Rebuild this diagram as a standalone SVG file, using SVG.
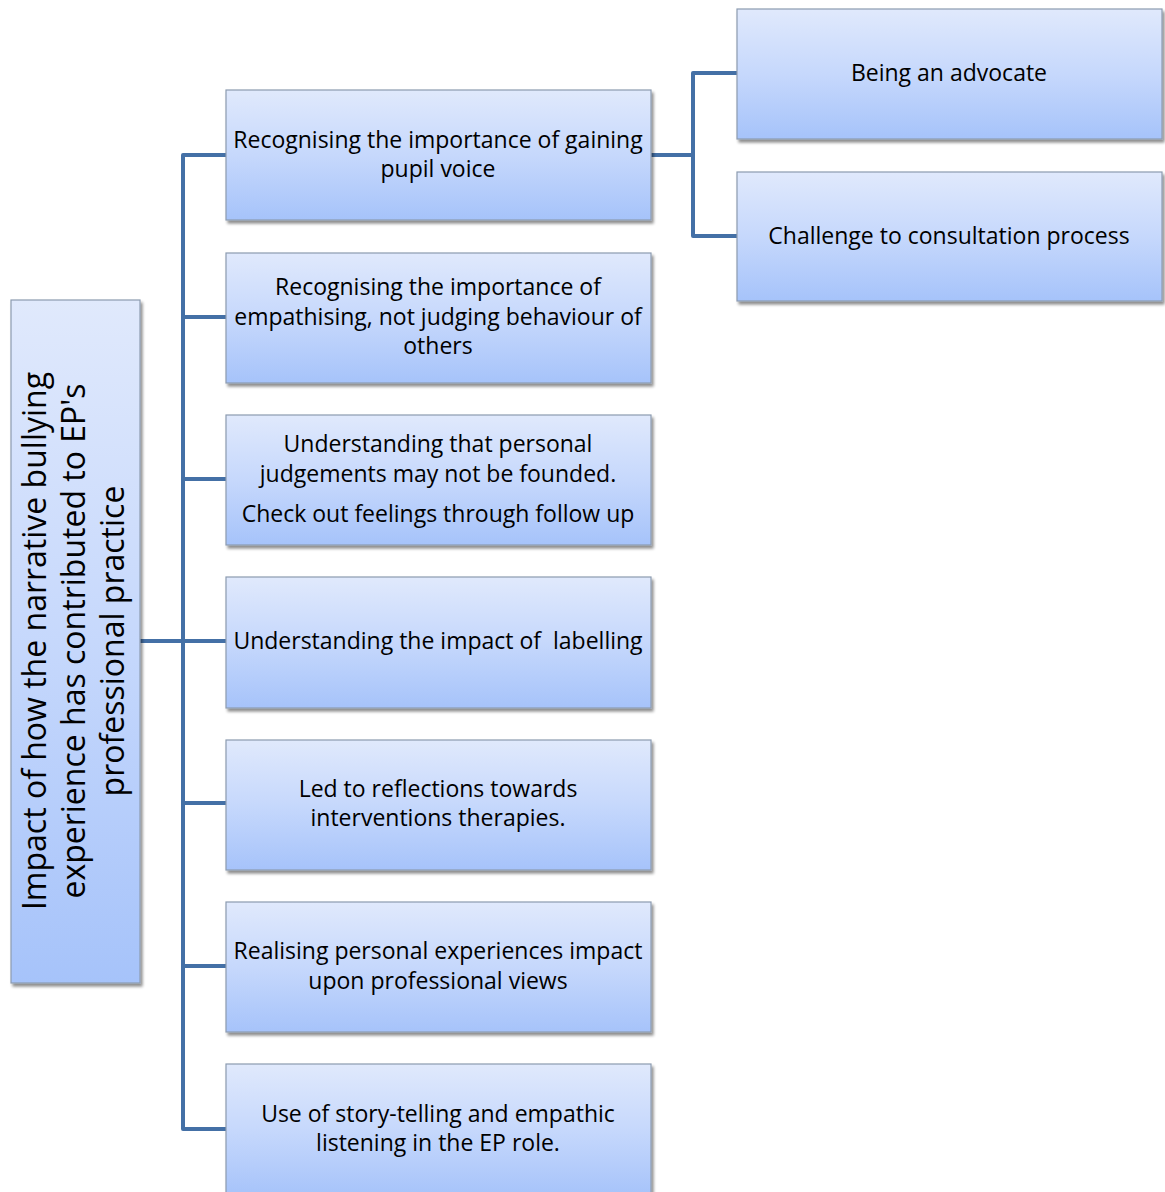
<svg xmlns="http://www.w3.org/2000/svg" width="1165" height="1192" viewBox="0 0 1165 1192">
  <defs>
    <linearGradient id="boxFill" x1="0" y1="0" x2="0" y2="1">
      <stop offset="0" stop-color="#e0e9fc"/>
      <stop offset="0.5" stop-color="#c6d8fc"/>
      <stop offset="1" stop-color="#a6c3fa"/>
    </linearGradient>
    <filter id="shadow" x="-5%" y="-5%" width="115%" height="115%">
      <feGaussianBlur in="SourceAlpha" stdDeviation="1.5"/>
      <feOffset dx="2" dy="3" result="off"/>
      <feComponentTransfer><feFuncA type="linear" slope="0.45"/></feComponentTransfer>
      <feMerge><feMergeNode/><feMergeNode in="SourceGraphic"/></feMerge>
    </filter>
  </defs>
  <style>
    .box { fill: url(#boxFill); stroke: #8c9bb0; stroke-width: 1.2; filter: url(#shadow); }
    .lbl { font-family: "Open Sans", "Liberation Sans", sans-serif; font-size: 23px; fill: #000; text-anchor: middle; }
    .root { font-family: "Open Sans", "Liberation Sans", sans-serif; font-size: 32px; fill: #000; text-anchor: middle; }
    .wire { fill: none; stroke: #4470a6; stroke-width: 4; stroke-linejoin: round; stroke-linecap: round; }
  </style>
  <rect width="1165" height="1192" fill="#ffffff"/>

  <!-- connectors -->
  <g id="connectors">
    <path class="wire" d="M140 641 H183"/>
    <path class="wire" d="M226 155 H183 V1129 H226"/>
    <path class="wire" d="M183 317 H226 M183 479 H226 M183 641 H226 M183 803 H226 M183 966 H226"/>
    <path class="wire" d="M651 155 H693"/>
    <path class="wire" d="M737 73 H693 V236 H737"/>
  </g>

  <!-- root -->
  <g id="root">
    <rect class="box" x="11" y="300" width="129" height="683"/>
    <g transform="translate(76 641) rotate(-90)">
      <text class="root" x="0" y="-30">Impact of how the narrative bullying</text>
      <text class="root" x="0" y="9">experience has contributed to EP's</text>
      <text class="root" x="0" y="48">professional practice</text>
    </g>
  </g>

  <g id="n1">
    <rect class="box" x="226" y="90" width="425" height="130"/>
    <text class="lbl" x="438" y="148">Recognising the importance of gaining</text>
    <text class="lbl" x="438" y="177">pupil voice</text>
  </g>
  <g id="n2">
    <rect class="box" x="226" y="253" width="425" height="130"/>
    <text class="lbl" x="438" y="295">Recognising the importance of</text>
    <text class="lbl" x="438" y="325">empathising, not judging behaviour of</text>
    <text class="lbl" x="438" y="354">others</text>
  </g>
  <g id="n3">
    <rect class="box" x="226" y="415" width="425" height="130"/>
    <text class="lbl" x="438" y="452">Understanding that personal</text>
    <text class="lbl" x="438" y="482">judgements may not be founded.</text>
    <text class="lbl" x="438" y="522">Check out feelings through follow up</text>
  </g>
  <g id="n4">
    <rect class="box" x="226" y="577" width="425" height="131"/>
    <text class="lbl" x="438" y="649" xml:space="preserve">Understanding the impact of  labelling</text>
  </g>
  <g id="n5">
    <rect class="box" x="226" y="740" width="425" height="130"/>
    <text class="lbl" x="438" y="797">Led to reflections towards</text>
    <text class="lbl" x="438" y="826">interventions therapies.</text>
  </g>
  <g id="n6">
    <rect class="box" x="226" y="902" width="425" height="130"/>
    <text class="lbl" x="438" y="959">Realising personal experiences impact</text>
    <text class="lbl" x="438" y="989">upon professional views</text>
  </g>
  <g id="n7">
    <rect class="box" x="226" y="1064" width="425" height="132"/>
    <text class="lbl" x="438" y="1122">Use of story-telling and empathic</text>
    <text class="lbl" x="438" y="1151">listening in the EP role.</text>
  </g>
  <g id="n8">
    <rect class="box" x="737" y="9" width="425" height="130"/>
    <text class="lbl" x="949" y="81">Being an advocate</text>
  </g>
  <g id="n9">
    <rect class="box" x="737" y="172" width="425" height="129"/>
    <text class="lbl" x="949" y="244">Challenge to consultation process</text>
  </g>
</svg>
